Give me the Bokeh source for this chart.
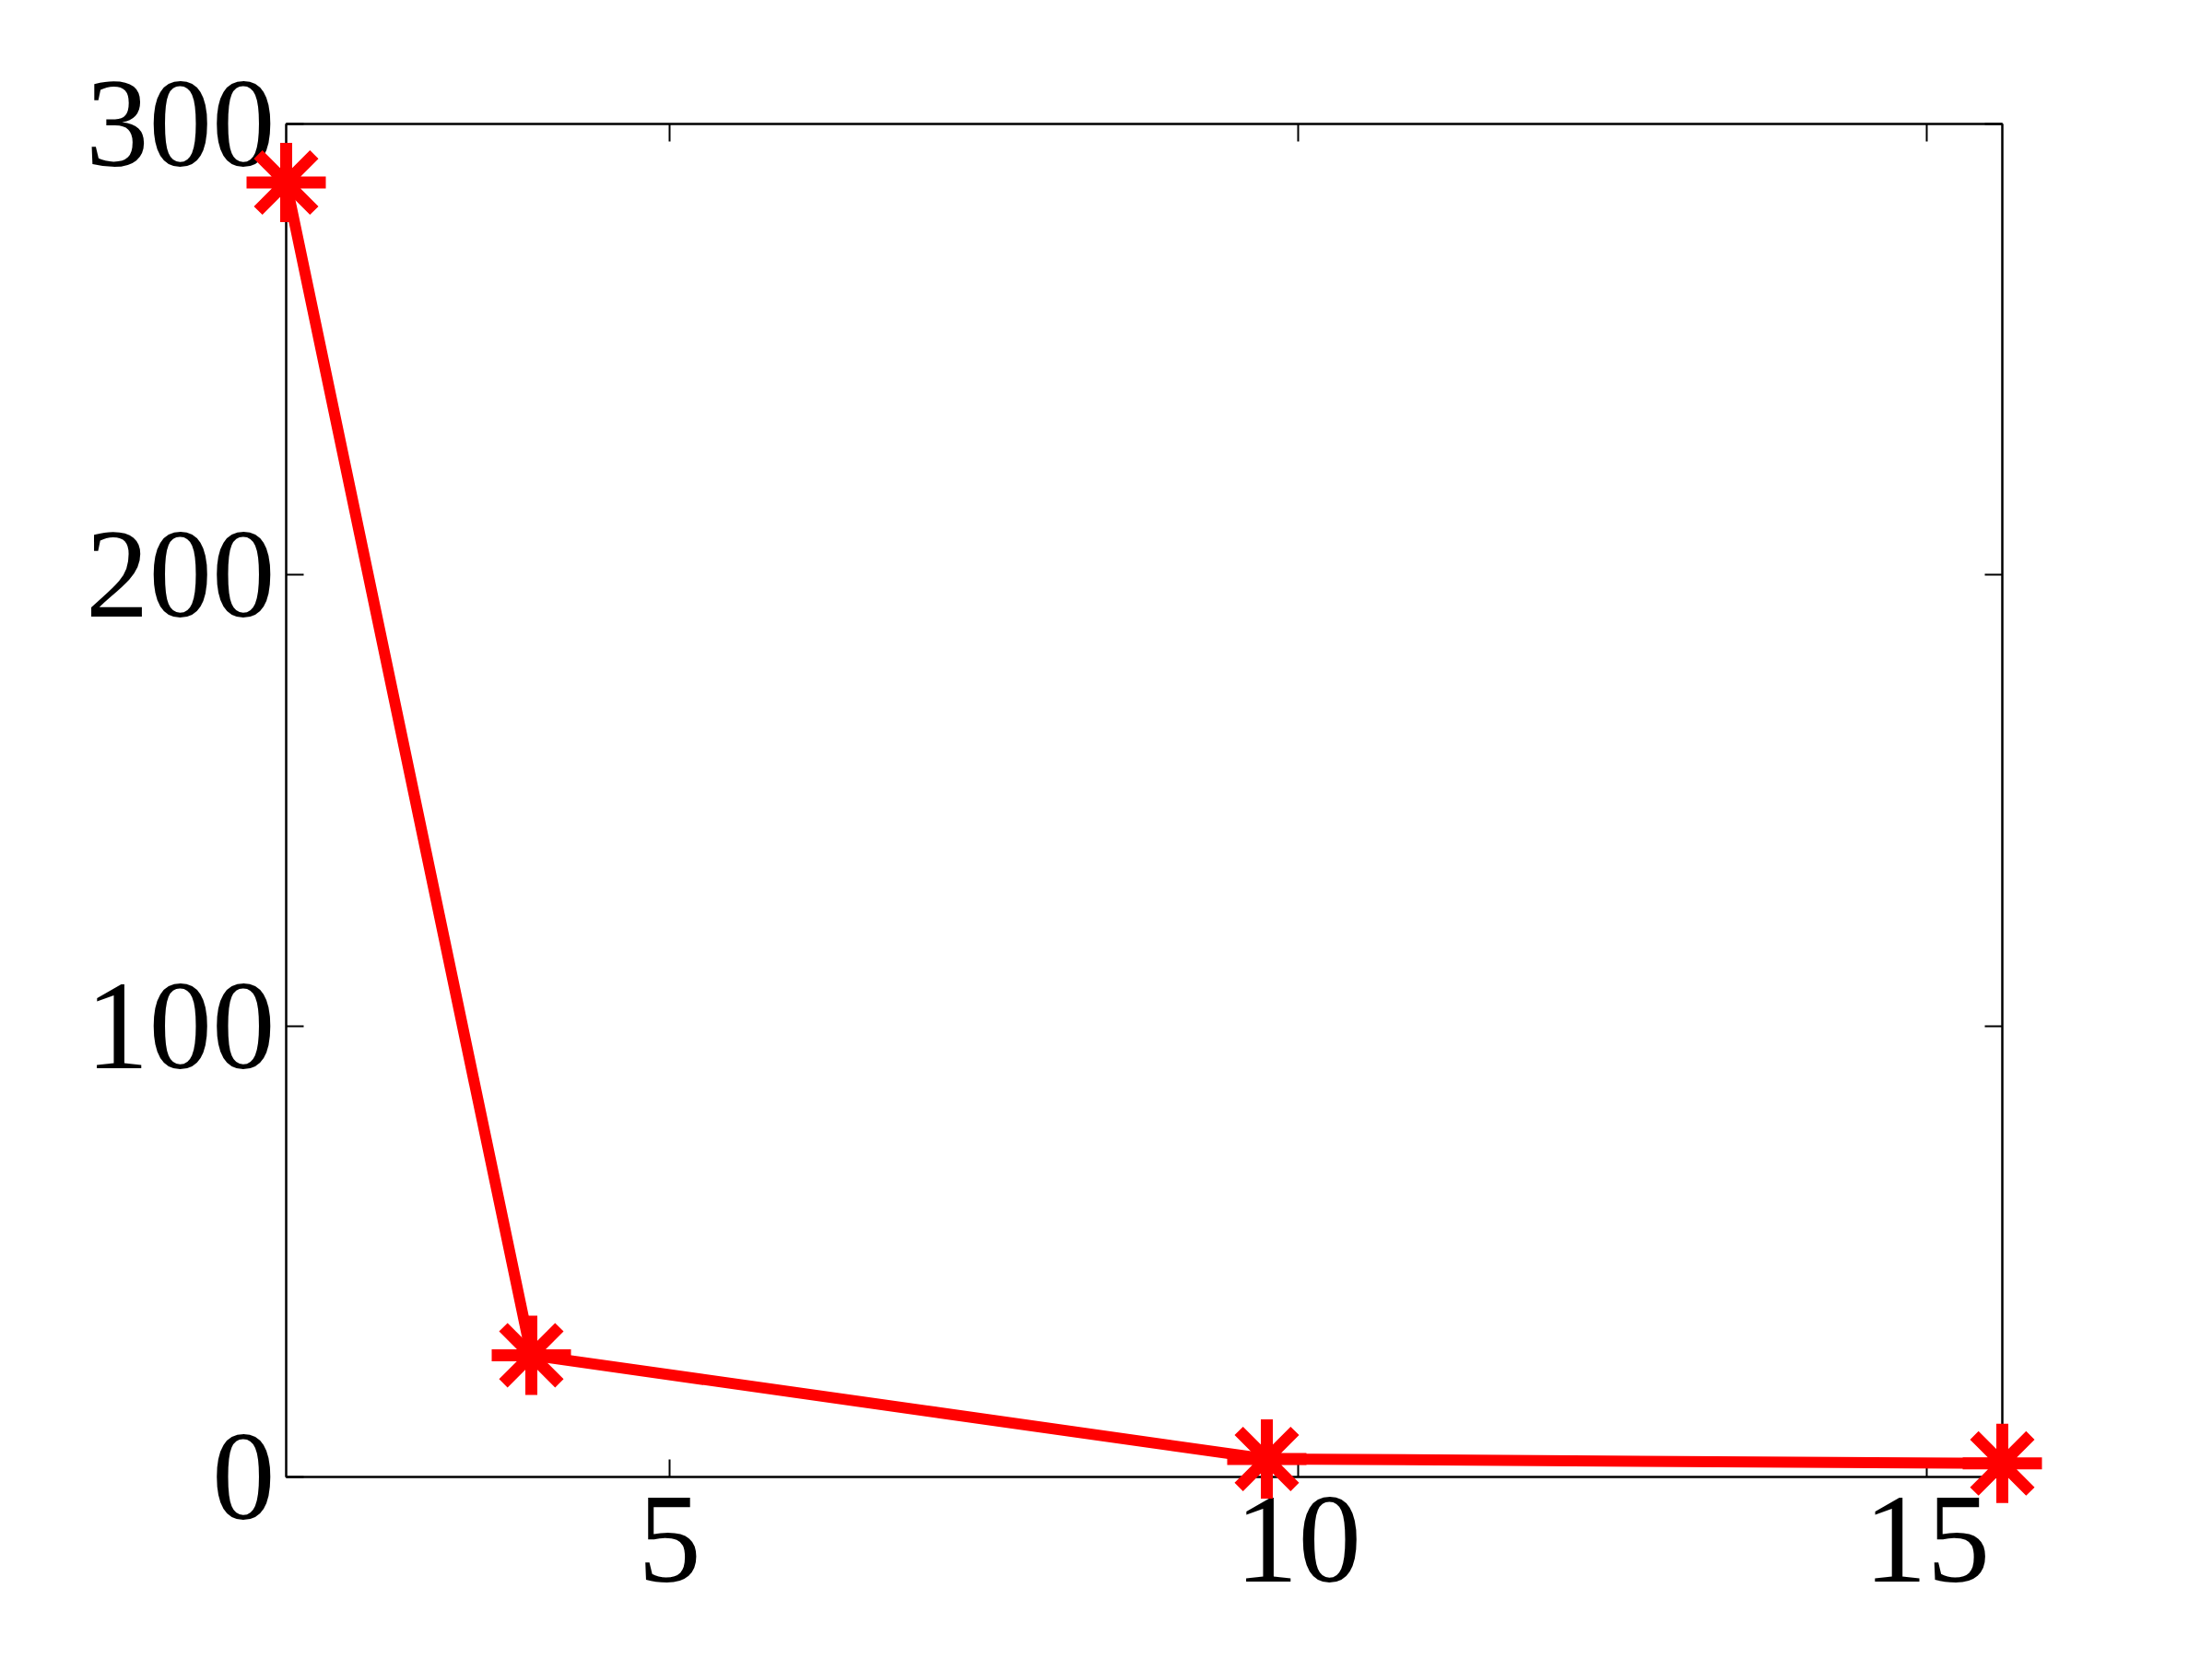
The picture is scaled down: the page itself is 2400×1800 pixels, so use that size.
from bokeh.plotting import figure
from bokeh.models import Range1d, FixedTicker, LinearAxis, ColumnDataSource
from bokeh.embed import file_html
from bokeh.resources import INLINE

# data
x_vals = [1.95, 3.9, 9.75, 15.6]
y_vals = [287, 27, 4, 3]
x_ticks = [5, 10, 15]
y_ticks = [0, 100, 200, 300]

src = ColumnDataSource(dict(x=x_vals, y=y_vals))

p = figure(width=2392, height=1792, output_backend="svg", toolbar_location=None,
           x_range=Range1d(1.95, 15.6), y_range=Range1d(0, 300),
           min_border_left=310, min_border_right=220, min_border_top=134, min_border_bottom=190,
           x_axis_location=None, y_axis_location=None)
p.grid.visible = False
p.background_fill_color = "white"
p.border_fill_color = "white"
p.outline_line_color = "black"
p.outline_line_width = 2

FONT = "Liberation Serif"
FS = "137px"

def style(ax, labels=True, standoff=18):
    ax.axis_line_color = "black"
    ax.axis_line_width = 2
    ax.major_tick_in = 19
    ax.major_tick_out = 0
    ax.major_tick_line_width = 2
    ax.minor_tick_line_color = None
    ax.major_label_text_font = FONT
    ax.major_label_text_font_size = FS
    ax.major_label_text_color = "black"
    ax.major_label_standoff = standoff
    if not labels:
        ax.major_label_overrides = {t: "" for t in ax.ticker.ticks}

xb = LinearAxis(ticker=FixedTicker(ticks=x_ticks))
style(xb, True, 22)
p.add_layout(xb, "below")
yl = LinearAxis(ticker=FixedTicker(ticks=y_ticks))
style(yl, True, 12)
p.add_layout(yl, "left")
xt = LinearAxis(ticker=FixedTicker(ticks=x_ticks))
style(xt, False, 0)
p.add_layout(xt, "above")
yr = LinearAxis(ticker=FixedTicker(ticks=y_ticks))
style(yr, False, 0)
p.add_layout(yr, "right")

p.line("x", "y", source=src, line_color="#ff0000", line_width=12, level="overlay")
p.scatter("x", "y", source=src, marker="asterisk", size=86, line_color="#ff0000",
          line_width=13, level="overlay")

open("out.html", "w").write(file_html(p, INLINE))
